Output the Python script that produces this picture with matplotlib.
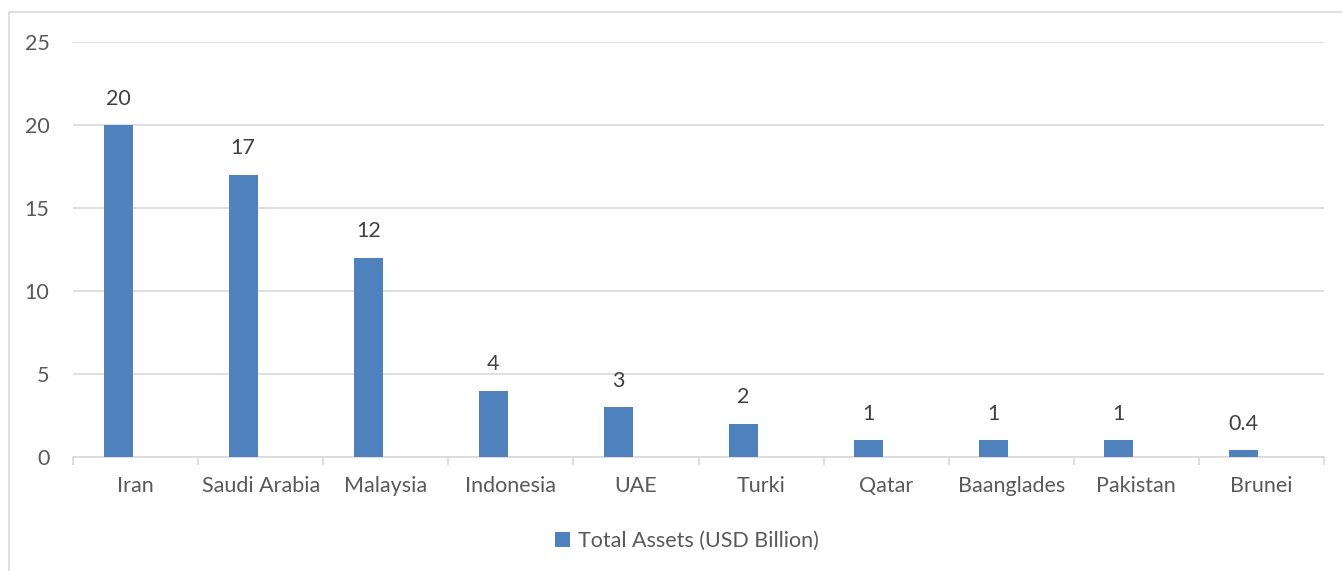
import numpy as np
import matplotlib.pyplot as plt
from matplotlib.patches import Rectangle

# Data
countries = ['Iran', 'Saudi Arabia', 'Malaysia', 'Indonesia', 'UAE', 'Turki',
             'Qatar', 'Baanglades', 'Pakistan', 'Brunei']
assets = [20, 17, 12, 4, 3, 2, 1, 1, 1, 0.4]
value_labels = ['20', '17', '12', '4', '3', '2', '1', '1', '1', '0.4']

plt.rcParams['font.family'] = ['Lato', 'DejaVu Sans']
txt = '#595959'
grid = '#d9d9d9'
blue = '#4f81bd'
fs = 15.5

fig = plt.figure(figsize=(13.42, 5.71), dpi=100)
ax = fig.add_axes([73 / 1342, 1 - 457 / 571, 1251 / 1342, 415 / 571])

x = np.arange(len(countries))
offset = -0.14
bars = ax.bar(x + offset, assets, width=0.232, color=blue,
              label='Total Assets (USD Billion)', zorder=3)

for xi, v, lab in zip(x, assets, value_labels):
    ax.annotate(lab, (xi + offset, v), xytext=(0, 19), textcoords='offset points',
                ha='center', va='center', fontsize=fs, color='#404040')

ax.set_xlim(-0.5, len(countries) - 0.5)
ax.set_ylim(0, 25)
ax.set_yticks([0, 5, 10, 15, 20, 25])
ax.yaxis.grid(True, color=grid, linewidth=1.2, zorder=0)
ax.set_axisbelow(True)

ax.set_xticks(x)
ax.set_xticklabels(countries)
ax.set_xticks(np.arange(-0.5, len(countries)), minor=True)
ax.tick_params(axis='x', which='major', length=0, pad=14, labelsize=fs, labelcolor=txt)
ax.tick_params(axis='x', which='minor', length=6, color=grid, width=1.2)
ax.tick_params(axis='y', length=0, pad=17, labelsize=fs, labelcolor=txt)

for s in ['top', 'right', 'left']:
    ax.spines[s].set_visible(False)
ax.spines['bottom'].set_color(grid)
ax.spines['bottom'].set_linewidth(1.2)

# outer chart frame
fig.patches.append(Rectangle((9 / 1342, -0.1), 1.2, 1 - 12 / 571 + 0.1,
                             transform=fig.transFigure, fill=False,
                             edgecolor=grid, linewidth=1.2))

fig.legend(handles=[bars], loc='center', bbox_to_anchor=(687 / 1342, 1 - 541 / 571),
           frameon=False, fontsize=fs, labelcolor=txt, handlelength=0.7,
           handleheight=0.7, handletextpad=0.35)

fig.savefig('out.png', dpi=100)
